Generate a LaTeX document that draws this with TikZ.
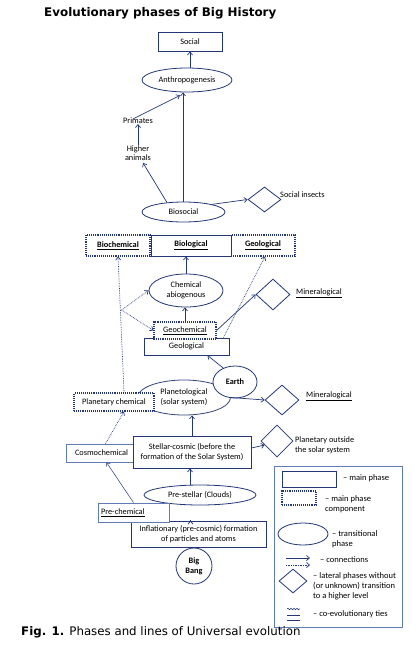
\documentclass[tikz,border=0pt]{standalone}
\usepackage{fontspec}
\setmainfont{Carlito}
\newfontfamily\vfont{DejaVu Sans}
\usetikzlibrary{shapes.geometric,arrows.meta,calc,decorations.pathmorphing}
\definecolor{ln}{RGB}{35,55,120}
\definecolor{lt}{RGB}{95,125,180}
\begin{document}
\begin{tikzpicture}[x=1pt,y=-1pt,font=\fontsize{8.3}{9.6}\selectfont,
  mainbox/.style={draw=ln,line width=0.9pt,fill=white,inner sep=0,align=center},
  compbox/.style={draw=ln,line width=1.1pt,densely dotted,fill=white,inner sep=0,align=center},
  lightbox/.style={draw=lt,line width=0.8pt,fill=white,inner sep=0,align=center},
  trans/.style={ellipse,draw=ln,line width=0.8pt,fill=white,inner sep=0,align=center},
  lateral/.style={diamond,draw=ln,line width=0.8pt,fill=white,inner sep=0},
  conn/.style={draw=ln,line width=0.7pt,-{Straight Barb[length=3pt,width=5pt]}},
  dconn/.style={conn,densely dotted},
  lbl/.style={inner sep=0,align=center},
  leg/.style={inner sep=0,align=left,anchor=west,font=\fontsize{8.5}{10}\selectfont}]
\useasboundingbox[fill=white] (0,0) rectangle (416,657);

% title
\node[anchor=west,inner sep=0,font=\vfont\bfseries\fontsize{11.9}{13}\selectfont] (title) at (44,13) {Evolutionary phases of Big History};

% top
\node[mainbox,minimum width=64,minimum height=19] (social) at (190,41.5) {Social};
\node[trans,minimum width=90,minimum height=24] (anthro) at (187,80) {Anthropogenesis};
\node[lbl] (primates) at (138,121) {Primates};
\node[lbl] (higher) at (138,153) {Higher\\animals};
\node[trans,minimum width=83,minimum height=20] (biosocial) at (183.5,212) {Biosocial};
\node[lateral,minimum width=33,minimum height=25] (insects) at (264.5,199.5) {};
\node[lbl,anchor=west] (insectst) at (280,195) {Social insects};

% biological row
\node[compbox,minimum width=64,minimum height=21] (biochem) at (118,245.5) {\textbf{\underline{Biochemical}}};
\node[compbox,minimum width=64,minimum height=21] (geolog) at (263,245.5) {\textbf{\underline{Geological}}};
\node[mainbox,minimum width=80,minimum height=21] (biological) at (191,245.5) {\textbf{\underline{Biological}}};

% chemical
\node[trans,minimum width=74,minimum height=33] (chemical) at (186,290.5) {Chemical\\abiogenous};
\node[lateral,minimum width=34,minimum height=31] (mineral1) at (273,294.5) {};
\node[lbl] (mineral1t) at (319,293) {\underline{Mineralogical}};
\node[mainbox,minimum width=85,minimum height=17] (geological) at (186.5,346.5) {Geological};
\node[compbox,minimum width=62,minimum height=17] (geochem) at (185,330.5) {\underline{Geochemical}};

% planetological
\node[trans,draw=ln!80!gray,minimum width=93,minimum height=35] (planet) at (184,397.5) {Planetological\\(solar system)};
\node[trans,minimum width=44,minimum height=32] (earth) at (235,382) {\textbf{Earth}};
\node[lateral,minimum width=34,minimum height=30] (mineral2) at (282,400) {};
\node[lbl] (mineral2t) at (329,396) {\underline{Mineralogical}};
\node[compbox,minimum width=80,minimum height=18] (planchem) at (114,402) {Planetary chemical};

% stellar
\node[lightbox,minimum width=71,minimum height=18] (cosmochem) at (101.5,453) {Cosmochemical};
\node[mainbox,minimum width=118,minimum height=32] (stellar) at (192,452) {Stellar-cosmic (before the\\formation of the Solar System)};
\node[lateral,minimum width=32,minimum height=32] (outside) at (277,441) {};
\node[lbl,anchor=west,align=left] (outsidet) at (295,445) {Planetary outside\\the solar system};

% bottom
\node[trans,minimum width=112,minimum height=20] (prestellar) at (200,495) {Pre-stellar (Clouds)};
\node[mainbox,minimum width=135,minimum height=26] (inflation) at (198.5,534) {Inflationary (pre-cosmic) formation\\of particles and atoms};
\node[lightbox,minimum width=71,minimum height=19,text width=65,align=left] (prechem) at (133.5,512.5) {\underline{Pre-chemical}};
\node[circle,draw=ln,line width=0.8pt,fill=white,inner sep=0,minimum size=36,align=center] (bigbang) at (194,566) {\textbf{Big}\\\textbf{Bang}};

% connectors
\draw[conn] (anthro.north -| social.south) -- (social.south);
\draw[conn] ($(primates.north)+(-5,1)$) -- ($(anthro.south)+(-7,3)$);
\draw[conn] (higher.north) -- (primates.south);
\draw[conn] (biosocial.150) -- ($(higher.south)+(5,2)$);
\draw[conn] (biosocial.north -| 183,0) -- (anthro.south -| 183,0);
\draw[conn] (biosocial.15) -- (insects.west);
\draw[conn] (chemical.north) -- (chemical.north |- biological.south);
\draw[conn] (geochem.north) -- (geochem.north |- chemical.south);
\coordinate (br) at (121.6,310);
\draw[dconn] ($(planchem.north)+(10,0)$) -- (biochem.south);
\draw[dconn] (br) -- (chemical.west);
\draw[dconn] (br) -- (geochem.west);
\draw[dconn] ($(geological.north east)+(-6,0)$) -- ($(geolog.south)+(2,0)$);
\draw[conn] (geochem.east) -- (mineral1.west);
\draw[conn] (earth.130) -- ($(geological.south)+(21,0)$);
\draw[conn] (planet.east) -- (mineral2.west);
\draw[conn] (stellar.north) -- (stellar.north |- planet.south);
\draw[conn] ($(stellar.east)+(0,-4)$) -- ($(outside.west)+(4,4)$);
\draw[dconn] ($(cosmochem.north)+(4,0)$) -- ($(planchem.south)+(10,0)$);
\draw[conn,line width=0.5pt] (prechem.north) -- ($(cosmochem.south)+(5,0)$);
\draw[conn] ($(prestellar.north)+(-10,0)$) -- ($(stellar.south)+(-2,0)$);
\draw[conn] ($(inflation.north)+(-8,0)$) -- ($(inflation.north)+(-8,0)$ |- prestellar.south);

% legend
\node[draw=lt,line width=0.8pt,inner sep=0,minimum width=128,minimum height=161] (legend) at (338,546.5) {};
\node[mainbox,minimum width=54,minimum height=16] (lmain) at (309,479) {};
\node[leg] at (343,478) {-- main phase};
\node[compbox,minimum width=34,minimum height=14] (lcomp) at (299,498) {};
\node[leg] at (325,504.5) {-- main phase\\component};
\node[trans,minimum width=50,minimum height=22] (ltrans) at (303,534) {};
\node[leg] at (332,539) {-- transitional\\phase};
\draw[conn] (286,558) -- (310,558);
\draw[dconn] (286,565) -- (310,565);
\node[leg] at (320,560) {-- connections};
\node[lateral,minimum width=28,minimum height=24] (llat) at (293,581) {};
\node[leg] at (313,586.5) {-- lateral phases without\\(or unknown) transition\\to a higher level};
\draw[ln,line width=0.6pt,decorate,decoration={snake,amplitude=0.7pt,segment length=3pt}] (287,609) -- (300,609);
\draw[ln,line width=0.8pt] (287,615) -- (300,615);
\draw[ln,line width=0.8pt] (287,620) -- (300,620);
\node[leg] at (313,614) {-- co-evolutionary ties};

% caption
\node[anchor=west,inner sep=0,font=\vfont\fontsize{11.8}{13}\selectfont] (cap) at (21,632) {\textbf{Fig. 1.} Phases and lines of Universal evolution};
\end{tikzpicture}
\end{document}
